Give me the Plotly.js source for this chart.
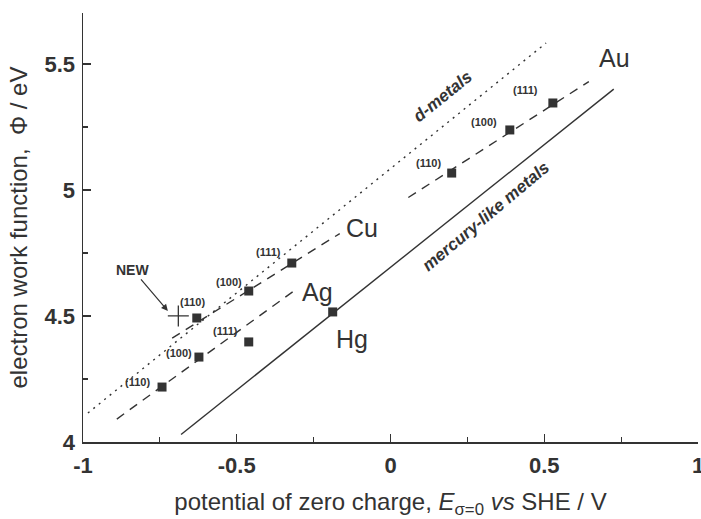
<!DOCTYPE html>
<html>
<head>
<meta charset="utf-8">
<script src="https://cdn.plot.ly/plotly-3.0.1.min.js"></script>
<style>
html,body{margin:0;padding:0;background:#fff;}
#chart{width:701px;height:519px;}
</style>
</head>
<body>
<div id="chart"></div>
<script>
// Facet labels
const faces = ["(110)", "(100)", "(111)"];

// Measured points (pzc vs SHE / V, work function / eV)
const cuE = [-0.63, -0.461, -0.321];
const cuPhi = [4.492, 4.599, 4.71];
const agE = [-0.743, -0.623, -0.461];
const agPhi = [4.218, 4.337, 4.397];
const auE = [0.199, 0.388, 0.528];
const auPhi = [5.067, 5.238, 5.345];
const hgE = [-0.188];
const hgPhi = [4.516];
const newE = [-0.69];
const newPhi = [4.5];

// Correlation lines (end points)
const dMetalsE = [-0.984, 0.506];
const dMetalsPhi = [4.115, 5.583];
const cuLineE = [-0.71, -0.165];
const cuLinePhi = [4.412, 4.827];
const agLineE = [-0.89, -0.31];
const agLinePhi = [4.091, 4.603];
const auLineE = [0.058, 0.645];
const auLinePhi = [4.97, 5.43];
const hgLineE = [-0.681, 0.726];
const hgLinePhi = [4.03, 5.40];

// Tick values
const xTicks = [-1, -0.5, 0, 0.5, 1];
const xTickText = ["-1", "-0.5", "0", "0.5", "1"];
const yTicks = [4, 4.5, 5, 5.5];
const yTickText = ["4", "4.5", "5", "5.5"];

const ink = "#333333";
const fam = "Liberation Sans, Arial, sans-serif";

function line(x, y, dash) {
  return {x: x, y: y, mode: "lines", type: "scatter", hoverinfo: "skip",
          line: {color: ink, width: 1.4, dash: dash}, showlegend: false};
}
function pts(x, y) {
  return {x: x, y: y, mode: "markers", type: "scatter", showlegend: false,
          marker: {symbol: "square", size: 9, color: ink}};
}

const traces = [
  line(dMetalsE, dMetalsPhi, "2px,5px"),
  line(cuLineE, cuLinePhi, "9px,7px"),
  line(agLineE, agLinePhi, "9px,7px"),
  line(auLineE, auLinePhi, "9px,7px"),
  line(hgLineE, hgLinePhi, "solid"),
  pts(cuE, cuPhi), pts(agE, agPhi), pts(auE, auPhi), pts(hgE, hgPhi),
  {x: newE, y: newPhi, mode: "markers", type: "scatter", showlegend: false,
   marker: {symbol: "cross-thin", size: 15, line: {color: ink, width: 1.3}}}
];

const annotations = [];
const faceFont = {family: fam, size: 11, color: ink, weight: "bold"};
function faceLabels(E, P, shifts) {
  for (let i = 0; i < E.length; i++) {
    annotations.push({x: E[i], y: P[i], text: faces[i], showarrow: false,
      xshift: shifts[i][0], yshift: shifts[i][1], font: faceFont});
  }
}
faceLabels(cuE, cuPhi, [[-4, 16], [-20, 9], [-23, 11]]);
faceLabels(agE, agPhi, [[-25, 5], [-20, 4], [-23, 11]]);
faceLabels(auE, auPhi, [[-23, 10], [-26, 8], [-27, 13]]);

const bigFont = {family: fam, size: 25, color: ink};
const metalLabels = [
  {t: "Au", x: 0.730, y: 5.524},
  {t: "Cu", x: -0.093, y: 4.849},
  {t: "Ag", x: -0.239, y: 4.595},
  {t: "Hg", x: -0.125, y: 4.409}
];
metalLabels.forEach(m => annotations.push({x: m.x, y: m.y, text: m.t, showarrow: false, font: bigFont}));

const italFont = {family: fam, size: 17, color: ink, style: "italic", weight: "bold"};
annotations.push({x: 0.170, y: 5.369, text: "d-metals", textangle: -39, showarrow: false, font: italFont});
annotations.push({x: 0.31, y: 4.895, text: "mercury-like metals", textangle: -40, showarrow: false, font: italFont});

annotations.push({x: newE[0] - 0.034, y: newPhi[0] + 0.02, text: "NEW", showarrow: true,
  ax: -35, ay: -41, arrowhead: 2, arrowsize: 1.1, arrowwidth: 1.2, arrowcolor: ink,
  font: {family: fam, size: 14, color: ink, weight: "bold"}});

const layout = {
  width: 701, height: 519,
  margin: {l: 83, r: 3, t: 13, b: 77},
  paper_bgcolor: "#ffffff", plot_bgcolor: "#ffffff",
  font: {family: fam, color: ink},
  xaxis: {
    range: [-1, 1], tickvals: xTicks, ticktext: xTickText,
    ticks: "inside", ticklen: 8, tickwidth: 1.3, tickcolor: ink,
    showline: true, linecolor: ink, linewidth: 1.5, showgrid: false, zeroline: false,
    tickfont: {size: 22, color: ink, weight: "bold"}, ticklabelstandoff: 3,
    ticklabeloverflow: "allow",
    minor: {ticks: "inside", ticklen: 5, tickwidth: 1.2, tickcolor: ink, dtick: 0.25, tick0: -1, showgrid: false},
    title: {text: "potential of zero charge, <i>E</i><sub>σ=0</sub> <i>vs</i> SHE / V",
            font: {size: 24, color: ink}, standoff: 21}
  },
  yaxis: {
    range: [4, 5.702], tickvals: yTicks, ticktext: yTickText,
    ticks: "inside", ticklen: 8, tickwidth: 1.3, tickcolor: ink,
    showline: true, linecolor: ink, linewidth: 1.5, showgrid: false, zeroline: false,
    tickfont: {size: 22, color: ink, weight: "bold"}, ticklabelstandoff: 2,
    minor: {ticks: "inside", ticklen: 5, tickwidth: 1.2, tickcolor: ink, dtick: 0.25, tick0: 4, showgrid: false},
    title: {text: "electron work function,  Φ / eV", font: {size: 24, color: ink}, standoff: 10}
  },
  annotations: annotations,
  showlegend: false
};

Plotly.newPlot("chart", traces, layout, {displayModeBar: false, staticPlot: true});
</script>
</body>
</html>
